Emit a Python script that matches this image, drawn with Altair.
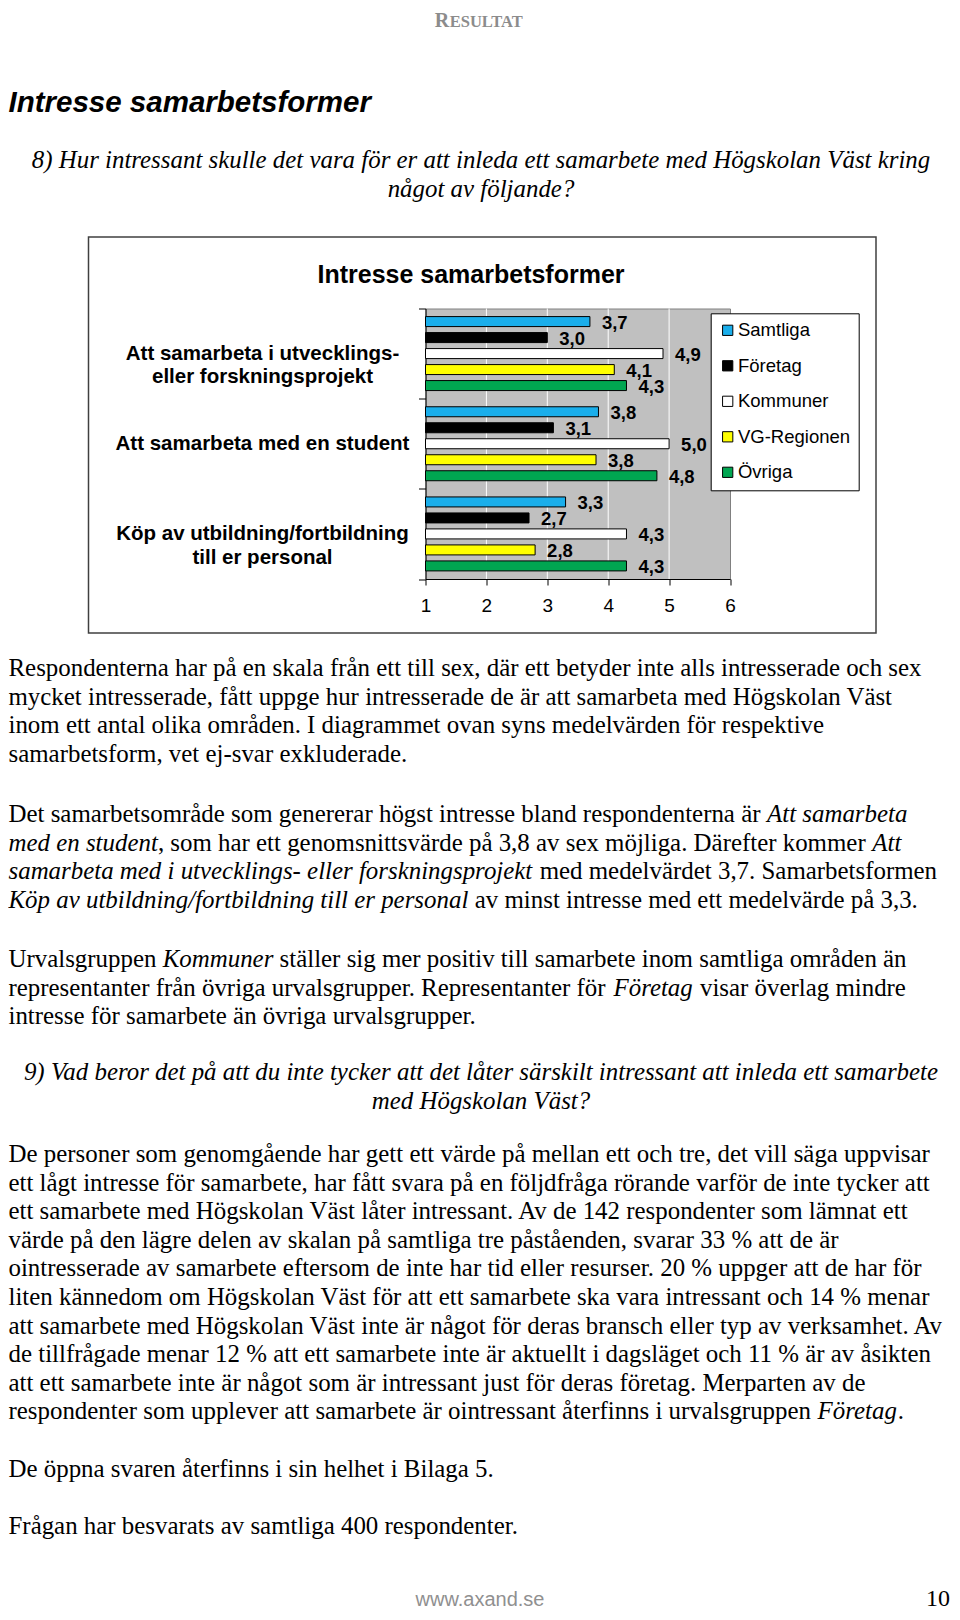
import altair as alt
import pandas as pd

# ------------------------------------------------------------------ data
categories = [
    "Att samarbeta i utvecklings-\neller forskningsprojekt",
    "Att samarbeta med en student",
    "Köp av utbildning/fortbildning\ntill er personal",
]
series = ["Samtliga", "Företag", "Kommuner", "VG-Regionen", "Övriga"]
samtliga = [3.7, 3.84, 3.3]
foretag = [3.0, 3.1, 2.7]
kommuner = [4.9, 5.0, 4.3]
vg_regionen = [4.1, 3.8, 2.8]
ovriga = [4.3, 4.8, 4.3]
series_colors = ["#1AAEEB", "#000000", "#FFFFFF", "#FFFF00", "#00A651"]
x_ticks = [1, 2, 3, 4, 5, 6]
grid_values = [2, 3, 4, 5]

chart_title = "Intresse samarbetsformer"
header_big = "R"
header_small = "ESULTAT"
page_heading = "Intresse samarbetsformer"
question_8 = [
    "8) Hur intressant skulle det vara för er att inleda ett samarbete med Högskolan Väst kring",
    "något av följande?",
]
question_9 = [
    "9) Vad beror det på att du inte tycker att det låter särskilt intressant att inleda ett samarbete",
    "med Högskolan Väst?",
]
para_1 = [
    [("Respondenterna har på en skala från ett till sex, där ett betyder inte alls intresserade och sex", False)],
    [("mycket intresserade, fått uppge hur intresserade de är att samarbeta med Högskolan Väst", False)],
    [("inom ett antal olika områden. I diagrammet ovan syns medelvärden för respektive", False)],
    [("samarbetsform, vet ej-svar exkluderade.", False)],
]
para_2 = [
    [("Det samarbetsområde som genererar högst intresse bland respondenterna är ", False), ("Att samarbeta", True)],
    [("med en student", True), (", som har ett genomsnittsvärde på 3,8 av sex möjliga. Därefter kommer ", False), ("Att", True)],
    [("samarbeta med i utvecklings- eller forskningsprojekt", True), (" med medelvärdet 3,7. Samarbetsformen", False)],
    [("Köp av utbildning/fortbildning till er personal", True), (" av minst intresse med ett medelvärde på 3,3.", False)],
]
para_3 = [
    [("Urvalsgruppen ", False), ("Kommuner", True), (" ställer sig mer positiv till samarbete inom samtliga områden än", False)],
    [("representanter från övriga urvalsgrupper. Representanter för ", False), ("Företag", True), (" visar överlag mindre", False)],
    [("intresse för samarbete än övriga urvalsgrupper.", False)],
]
para_4 = [
    [("De personer som genomgående har gett ett värde på mellan ett och tre, det vill säga uppvisar", False)],
    [("ett lågt intresse för samarbete, har fått svara på en följdfråga rörande varför de inte tycker att", False)],
    [("ett samarbete med Högskolan Väst låter intressant. Av de 142 respondenter som lämnat ett", False)],
    [("värde på den lägre delen av skalan på samtliga tre påståenden, svarar 33 % att de är", False)],
    [("ointresserade av samarbete eftersom de inte har tid eller resurser. 20 % uppger att de har för", False)],
    [("liten kännedom om Högskolan Väst för att ett samarbete ska vara intressant och 14 % menar", False)],
    [("att samarbete med Högskolan Väst inte är något för deras bransch eller typ av verksamhet. Av", False)],
    [("de tillfrågade menar 12 % att ett samarbete inte är aktuellt i dagsläget och 11 % är av åsikten", False)],
    [("att ett samarbete inte är något som är intressant just för deras företag. Merparten av de", False)],
    [("respondenter som upplever att samarbete är ointressant återfinns i urvalsgruppen ", False), ("Företag", True), (".", False)],
]
para_5 = [[("De öppna svaren återfinns i sin helhet i Bilaga 5.", False)]]
para_6 = [[("Frågan har besvarats av samtliga 400 respondenter.", False)]]
footer_site = "www.axand.se"
footer_page = "10"

# ------------------------------------------------------------------ layout
OX, OY = 425.5, 308.5          # page position of the plot origin
PLOT_W, PLOT_H = 304.5, 270.5
BODY = 24.9
PITCH = 28.6
LEFT = 8.5
SERIF = "Liberation Serif"
SANS = "Liberation Sans"

_R = {' ': 250, ',': 250, '.': 250, '-': 333, '/': 278, '%': 833, '?': 444,
      'a': 444, 'b': 500, 'c': 444, 'd': 500, 'e': 444, 'f': 333, 'g': 500, 'h': 500,
      'i': 278, 'j': 278, 'k': 500, 'l': 278, 'm': 778, 'n': 500, 'o': 500, 'p': 500,
      'q': 500, 'r': 333, 's': 389, 't': 278, 'u': 500, 'v': 500, 'w': 722, 'x': 500,
      'y': 500, 'z': 444, 'å': 444, 'ä': 444, 'ö': 500,
      'A': 722, 'B': 667, 'D': 722, 'F': 556, 'H': 722, 'I': 333, 'K': 722, 'M': 889,
      'R': 667, 'S': 556, 'U': 722, 'V': 722, 'Ö': 722}
_I = {' ': 250, ',': 250, '.': 250, '-': 333, '/': 278,
      'a': 500, 'b': 500, 'c': 444, 'd': 500, 'e': 444, 'f': 278, 'g': 500, 'h': 500,
      'i': 278, 'j': 278, 'k': 444, 'l': 278, 'm': 722, 'n': 500, 'o': 500, 'p': 500,
      'q': 500, 'r': 389, 's': 389, 't': 278, 'u': 500, 'v': 444, 'w': 667, 'x': 444,
      'y': 444, 'z': 389, 'å': 500, 'ä': 500, 'ö': 500,
      'A': 611, 'F': 611, 'K': 667, 'Ö': 722}


def seg_width(text, italic):
    table = _I if italic else _R
    return sum(table.get(ch, 500) for ch in text) * BODY / 1000.0


reg_rows, it_rows = [], []


def add_paragraph(lines, baseline0):
    for i, line in enumerate(lines):
        x = LEFT
        y = baseline0 + i * PITCH
        for text, italic in line:
            stripped = text.lstrip(" ")
            lead = seg_width(text[: len(text) - len(stripped)], italic)
            (it_rows if italic else reg_rows).append(
                {"t": stripped.rstrip(" "), "px": x + lead - OX, "py": y - OY})
            x += seg_width(text, italic)


add_paragraph(para_1, 676)
add_paragraph(para_2, 822)
add_paragraph(para_3, 967)
add_paragraph(para_4, 1162)
add_paragraph(para_5, 1477)
add_paragraph(para_6, 1533.7)

q_rows = []
for i, t in enumerate(question_8):
    q_rows.append({"t": t, "px": 481 - OX, "py": 168.3 + i * 28.4 - OY})
for i, t in enumerate(question_9):
    q_rows.append({"t": t, "px": 481 - OX, "py": 1080.3 + i * 28.4 - OY})


def text_layer(rows, **mark):
    return alt.Chart(pd.DataFrame(rows)).mark_text(baseline="alphabetic", **mark).encode(
        x=alt.X("px:Q", scale=None, axis=None),
        y=alt.Y("py:Q", scale=None, axis=None),
        text="t:N",
    )


one = alt.Data(values=[{"k": 1}])

# ------------------------------------------------------------------ chart
rows = []
for s, vals in zip(series, [samtliga, foretag, kommuner, vg_regionen, ovriga]):
    for c, v in zip(categories, vals):
        rows.append({"category": c, "series": s, "value": v})
df = pd.DataFrame(rows)

x_enc = alt.X(
    "value:Q",
    title=None,
    scale=alt.Scale(domain=[1, 6], nice=False, zero=False),
    axis=alt.Axis(values=x_ticks, format="d", grid=False, labelFont=SANS, labelFontSize=19,
                  labelColor="black", labelPadding=11, tickSize=6, tickColor="black",
                  domainColor="black", labelFlush=False),
)
y_enc = alt.Y(
    "category:N",
    title=None,
    sort=categories,
    scale=alt.Scale(paddingInner=0, paddingOuter=0),
    axis=alt.Axis(labelExpr="split(datum.label, '\\n')", labelFont=SANS, labelFontWeight="bold",
                  labelFontSize=20.5, labelColor="black", labelAlign="center", labelBaseline="middle",
                  labelPadding=156.5, labelLimit=400, labelLineHeight=23.4, tickBand="extent",
                  tickSize=7, tickColor="black", domainColor="black", grid=False),
)
yoff_enc = alt.YOffset("series:N", sort=series,
                       scale=alt.Scale(paddingInner=0.375, paddingOuter=0.506))

frame = alt.Chart(one).mark_rect(fillOpacity=0, stroke="#404040", strokeWidth=1.5).encode(
    x=alt.value(88.5 - OX), x2=alt.value(876 - OX),
    y=alt.value(237 - OY), y2=alt.value(633 - OY),
)

grid = alt.Chart(pd.DataFrame({"g": grid_values})).mark_rule(color="white", strokeWidth=1).encode(
    x=alt.X("g:Q")
)

bars = alt.Chart(df).mark_bar(stroke="black", strokeWidth=1).encode(
    x=x_enc,
    x2=alt.datum(1),
    y=y_enc,
    yOffset=yoff_enc,
    color=alt.Color(
        "series:N",
        scale=alt.Scale(domain=series, range=series_colors),
        legend=alt.Legend(title=None, orient="none", legendX=285.2, legendY=4.8,
                          direction="vertical", fillColor="white", strokeColor="black",
                          padding=7.75, symbolType="square", symbolSize=105,
                          symbolStrokeColor="black", symbolStrokeWidth=1, symbolOpacity=1,
                          labelFont=SANS, labelFontSize=18.5, labelColor="black",
                          labelOffset=1, rowPadding=16.5),
    ),
)

value_labels = alt.Chart(df).transform_calculate(
    lab="replace(format(datum.value, '.1f'), '.', ',')"
).mark_text(align="left", baseline="middle", dx=12, dy=1, font=SANS, fontWeight="bold",
            fontSize=18.5, color="black").encode(
    x=alt.X("value:Q"),
    y=alt.Y("category:N", sort=categories),
    yOffset=alt.YOffset("series:N", sort=series),
    text="lab:N",
)

title_mark = alt.Chart(one).mark_text(font=SANS, fontWeight="bold", fontSize=25, align="center",
                                      baseline="alphabetic", color="black").encode(
    x=alt.value(471 - OX), y=alt.value(283.2 - OY), text=alt.value(chart_title)
)

header_1 = text_layer([{"t": header_big, "px": 434.8 - OX, "py": 26.5 - OY}],
                      font=SERIF, fontWeight="bold", fontSize=20, align="left", color="#8c8c8c")
header_2 = text_layer([{"t": header_small, "px": 449.7 - OX, "py": 26.5 - OY}],
                      font=SERIF, fontWeight="bold", fontSize=16.5, align="left", color="#8c8c8c")
heading = text_layer([{"t": page_heading, "px": 8.5 - OX, "py": 112 - OY}],
                     font=SANS, fontWeight="bold", fontStyle="italic", fontSize=29.5,
                     align="left", color="black")
questions = text_layer(q_rows, font=SERIF, fontStyle="italic", fontSize=BODY,
                       align="center", color="black")
body_reg = text_layer(reg_rows, font=SERIF, fontSize=BODY, align="left", color="black")
body_it = text_layer(it_rows, font=SERIF, fontStyle="italic", fontSize=BODY,
                     align="left", color="black")
foot_1 = text_layer([{"t": footer_site, "px": 480 - OX, "py": 1606 - OY}],
                    font=SANS, fontSize=20, align="center", color="#909090")
foot_2 = text_layer([{"t": footer_page, "px": 950 - OX, "py": 1606 - OY}],
                    font=SERIF, fontSize=24, align="right", color="black")

chart = alt.layer(
    frame, grid, bars, value_labels, title_mark,
    header_1, header_2, heading, questions, body_reg, body_it, foot_1, foot_2,
).properties(
    width=PLOT_W,
    height=PLOT_H,
    autosize=alt.AutoSizeParams(type="none"),
    padding={"left": OX - 8, "top": OY - 8, "right": 952 - OX - PLOT_W,
             "bottom": 1612 - OY - PLOT_H},
    background="white",
).configure_view(fill="#C0C0C0", stroke="#808080", strokeWidth=1)

chart.save("out.html", embed_options={"renderer": "svg", "actions": False})
